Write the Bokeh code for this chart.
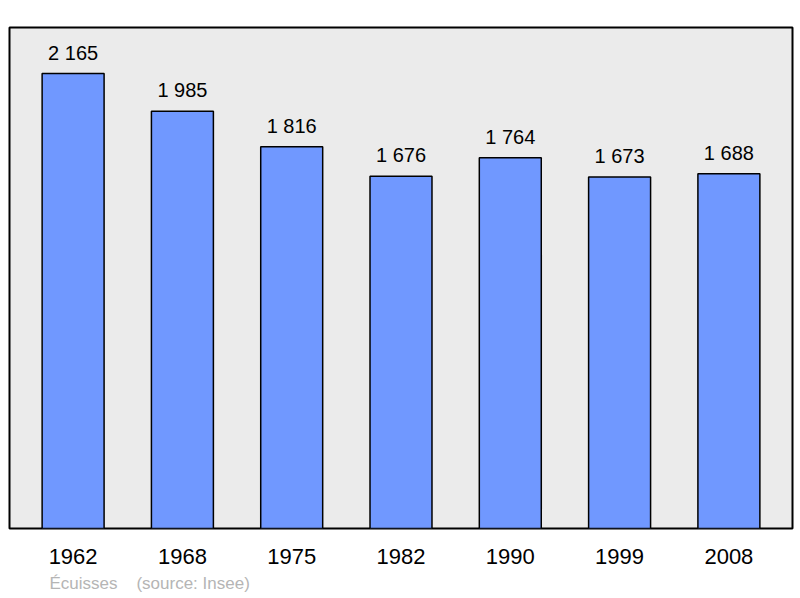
from bokeh.plotting import figure
from bokeh.models import FactorRange, Range1d, Title, ColumnDataSource
from bokeh.core.properties import value
from bokeh.embed import file_html
from bokeh.resources import INLINE

years = ["1962", "1968", "1975", "1982", "1990", "1999", "2008"]
population = [2165, 1985, 1816, 1676, 1764, 1673, 1688]
labels = ["2 165", "1 985", "1 816", "1 676", "1 764", "1 673", "1 688"]

src = ColumnDataSource(data=dict(year=years, pop=population, label=labels))

p = figure(
    width=795, height=598,
    x_range=FactorRange(*years, range_padding=0.082, range_padding_units="absolute"),
    y_range=Range1d(0, 2384),
    output_backend="svg", toolbar_location=None,
    min_border_left=9, min_border_right=3, min_border_top=27, min_border_bottom=30,
)
p.background_fill_color = "#ebebeb"
p.border_fill_color = "white"
p.outline_line_color = "black"
p.outline_line_width = 2
p.grid.visible = False
p.yaxis.visible = False

p.vbar(x="year", top="pop", width=0.567, source=src,
       fill_color="#7098ff", line_color="black", line_width=1.5)

p.text(x="year", y="pop", text="label", source=src, y_offset=-21,
       text_align="center", text_baseline="alphabetic",
       text_font=value("Liberation Sans"), text_font_size="20px", text_color="black")

ax = p.xaxis[0]
ax.axis_line_color = None
ax.major_tick_line_color = None
ax.minor_tick_line_color = None
ax.major_label_standoff = 14
ax.major_label_text_font = "Liberation Sans"
ax.major_label_text_font_size = "22px"
ax.major_label_text_color = "black"

note = Title(text="Écuisses" + "\u00a0" * 4 + "(source: Insee)", align="left", offset=40,
             text_font="Liberation Sans", text_font_size="17px", text_font_style="normal",
             text_color="#b5b5b5", standoff=11)
p.add_layout(note, "below")

open("out.html", "w").write(file_html(p, INLINE))
